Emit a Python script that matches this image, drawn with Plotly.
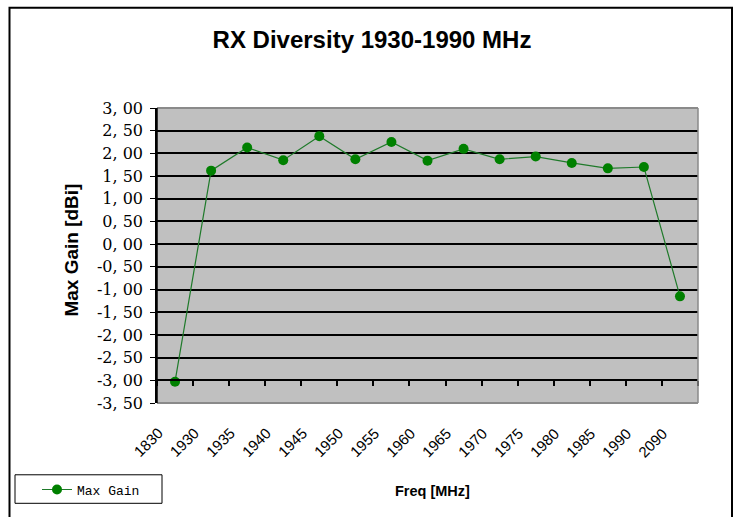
import plotly.graph_objects as go

categories = ["1830", "1930", "1935", "1940", "1945", "1950", "1955", "1960",
              "1965", "1970", "1975", "1980", "1985", "1990", "2090"]
max_gain = [-3.03, 1.62, 2.13, 1.85, 2.38, 1.87, 2.25, 1.84,
            2.10, 1.87, 1.93, 1.79, 1.67, 1.70, -1.15]
y_tick_vals = [3.0, 2.5, 2.0, 1.5, 1.0, 0.5, 0.0, -0.5, -1.0, -1.5, -2.0, -2.5, -3.0, -3.5]
y_tick_text = ["3, 00", "2, 50", "2, 00", "1, 50", "1, 00", "0, 50", "0, 00",
               "-0, 50", "-1, 00", "-1, 50", "-2, 00", "-2, 50", "-3, 00", "-3, 50"]

W, H = 738, 517
L, R, T, B = 157, 40, 108, 109
PW, PH = W - L - R, H - T - B


def px(x):
    return (x - L) / PW


def py(y):
    return (H - B - y) / PH


fig = go.Figure()
fig.add_trace(go.Scatter(
    x=categories, y=max_gain, mode="lines+markers", name="Max Gain",
    line=dict(color="#1f7a2a", width=1.2),
    marker=dict(color="#008000", size=10, symbol="circle"),
))

annotations = [
    dict(text="<b>Max Gain [dBi]</b>", textangle=-90, x=px(72), y=py(253),
         xref="paper", yref="paper", showarrow=False, xanchor="center", yanchor="middle",
         font=dict(family="Liberation Sans, Arial", size=19, color="black")),
    dict(text="<b>Freq [MHz]</b>", x=px(432), y=py(497),
         xref="paper", yref="paper", showarrow=False, xanchor="center", yanchor="middle",
         font=dict(family="Liberation Sans, Arial", size=14.5, color="black")),
]
for i, c in enumerate(categories):
    annotations.append(dict(
        text=c, x=i, y=py(448.5), xref="x", yref="paper", xshift=-27,
        showarrow=False, xanchor="center", yanchor="middle", textangle=-45,
        font=dict(family="Liberation Sans, Arial", size=15, color="black")))

boundary_ticks = [i - 0.5 for i in range(len(categories) + 1)]

fig.update_layout(
    width=W, height=H,
    margin=dict(l=L, r=R, t=T, b=B),
    paper_bgcolor="white",
    plot_bgcolor="#c0c0c0",
    title=dict(text="<b>RX Diversity 1930-1990 MHz</b>", x=372 / W, xref="container",
               y=1 - 40 / H, yref="container", xanchor="center", yanchor="middle",
               font=dict(family="Liberation Sans, Arial", size=24, color="black")),
    showlegend=True,
    legend=dict(x=px(37), y=py(496), xanchor="left", yanchor="middle",
                bgcolor="rgba(0,0,0,0)", borderwidth=0,
                font=dict(family="Liberation Mono", size=13, color="black")),
    xaxis=dict(type="category", categoryarray=categories, categoryorder="array",
               range=[-0.5, len(categories) - 0.5],
               anchor="free", position=py(384.5),
               showline=True, linecolor="black", linewidth=1.5,
               tickmode="array", tickvals=boundary_ticks,
               ticks="outside", ticklen=5, tickwidth=1.5, tickcolor="black",
               showticklabels=False, showgrid=False, zeroline=False),
    yaxis=dict(range=[-3.5, 3.0], tickmode="array", tickvals=y_tick_vals, ticktext=y_tick_text,
               showline=True, linecolor="black", linewidth=1.5,
               ticks="outside", ticklen=5, tickcolor="black", ticklabelstandoff=4,
               tickfont=dict(family="DejaVu Serif", size=16, color="black"),
               showgrid=True, gridcolor="black", gridwidth=2, zeroline=False),
    annotations=annotations,
    shapes=[
        dict(type="line", xref="paper", yref="paper", x0=0, x1=1, y0=1, y1=1,
             line=dict(color="#8a8a8a", width=2)),
        dict(type="line", xref="paper", yref="paper", x0=0, x1=1, y0=0, y1=0,
             line=dict(color="#8a8a8a", width=2)),
        dict(type="line", xref="paper", yref="paper", x0=1, x1=1, y0=0, y1=1,
             line=dict(color="#8a8a8a", width=1.5)),
        dict(type="line", xref="paper", yref="paper", x0=0, x1=0, y0=0, y1=1,
             line=dict(color="black", width=1.5)),
        dict(type="rect", xref="paper", yref="paper", x0=px(15), x1=px(162), y0=py(510), y1=py(481),
             line=dict(color="black", width=1)),
        dict(type="rect", xref="paper", yref="paper", x0=px(9.5), x1=px(732), y0=py(530), y1=py(6),
             line=dict(color="black", width=2)),
    ],
)

fig.write_html("out.html", config={"displayModeBar": False},
               post_script="document.body.style.margin='0';")
